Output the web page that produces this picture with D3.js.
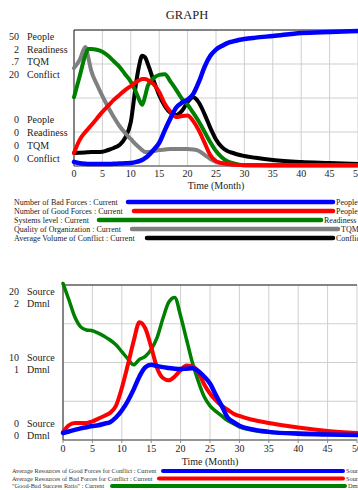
<!DOCTYPE html>
<html><head><meta charset="utf-8">
<script src="https://cdn.jsdelivr.net/npm/d3@7"></script>
<style>body{margin:0;background:#fff;}svg{display:block;font-family:"Liberation Serif","Times New Roman",serif;}</style>
</head><body>
<svg id="c" width="358" height="490"></svg>
<script>
// ---------- top chart data ----------
const topTimes = [0,1,2,2.5,3,4,5,6,7,8,9,10,11,11.5,12,12.5,13,14,15,16,17,18,19,20,21,22,23,24,25,26,27,28,29,30,32,35,40,45,50];
const badForces = [1.5,1.0,0.8,0.75,0.7,0.7,0.7,0.7,0.8,0.9,1.0,1.1,1.5,1.8,2.2,2.9,3.7,5.9,8.5,13.2,17.6,21.5,23.3,24.4,26.5,31.0,36.5,40.5,42.8,44.1,45.2,45.8,46.3,46.7,47.2,47.8,48.9,49.3,49.6];
const goodForces = [4.8,9.6,12.5,13.7,14.9,17.4,19.9,22.1,24.3,26.1,27.9,29.4,30.9,31.5,32.0,32.0,31.6,30.1,27.2,22.8,19.9,18.0,18.4,18.6,16.5,13.0,8.5,4.0,1.8,1.1,0.7,0.5,0.4,0.3,0.3,0.3,0.3,0.3,0.3];
const systemsLevel = [1.01,1.32,1.63,1.72,1.72,1.71,1.68,1.62,1.54,1.46,1.35,1.24,1.07,0.97,0.90,1.02,1.18,1.29,1.34,1.35,1.24,1.12,0.99,0.90,0.78,0.65,0.50,0.35,0.22,0.13,0.07,0.04,0.02,0.01,0.01,0.01,0.01,0.01,0.01];
const qualityOrg = [0.504,0.546,0.613,0.56,0.494,0.422,0.360,0.304,0.252,0.206,0.170,0.139,0.108,0.095,0.082,0.072,0.072,0.077,0.082,0.085,0.088,0.088,0.088,0.088,0.085,0.077,0.057,0.036,0.021,0.014,0.010,0.008,0.006,0.005,0.004,0.003,0.003,0.003,0.003];
const conflict = [1.91,1.95,2.0,2.03,2.05,2.06,2.1,2.35,2.65,3.09,4.12,6.47,12.6,14.9,16.2,16.0,15.0,12.6,10.4,8.8,7.8,7.5,8.1,9.4,10.1,9.3,7.6,5.6,3.9,2.8,2.2,1.91,1.65,1.47,1.2,0.88,0.59,0.44,0.29];
const topUnits = ["People","Readiness","TQM","Conflict"];
const topMaxLabels = ["50","2",".7","20"];
const topMax = [50,2,0.7,20];
const topLegend = ["Number of Bad Forces : Current","Number of Good Forces : Current","Systems level : Current","Quality of Organization : Current","Average Volume of Conflict : Current"];
const topLegendUnits = ["People","People","Readiness","TQM","Conflict"];

// ---------- bottom chart data ----------
const botTimes = [0,1,2,3,4,5,6,7,8,9,10,11,12,13,14,15,16,17,18,19,20,21,22,23,24,25,26,27,28,29,30,32,35,40,45,50];
const goodRes = [0.9,1.1,1.3,1.5,1.65,1.8,1.9,2.1,2.3,2.9,3.8,5.0,6.5,8.2,9.4,9.7,9.55,9.4,9.3,9.2,9.15,9.2,9.25,8.9,8.2,7.3,5.8,4.4,2.9,2.3,1.85,1.4,1.05,0.8,0.7,0.65];
const badRes = [1.03,1.9,2.2,2.2,2.2,2.4,2.75,3.1,3.5,4.4,6.7,9.6,12.7,15.2,14.4,12.0,9.3,8.0,7.7,8.2,9.0,9.6,9.5,8.8,7.2,6.0,5.1,4.4,3.9,3.4,3.1,2.65,2.2,1.6,1.15,0.9];
const successRatio = [2.02,1.81,1.59,1.46,1.42,1.41,1.38,1.34,1.29,1.23,1.14,1.05,0.97,1.04,1.08,1.17,1.32,1.57,1.78,1.84,1.60,1.30,1.00,0.76,0.56,0.44,0.37,0.31,0.25,0.21,0.17,0.13,0.10,0.09,0.08,0.06];
const botUnits = ["Source","Dmnl"];
const botTopLabels = ["20","2"];
const botMidLabels = ["10","1"];
const botMax = [20,2];
const botLegend = ["Average Resources of Good Forces for Conflict : Current","Average Resources of Bad Forces for Conflict : Current","\"Good-Bad Success Ratio\" : Current"];
const botLegendUnits = ["Source","Source","Dmnl"];
const xTicks = [0,5,10,15,20,25,30,35,40,45,50];

const svg = d3.select("#c");
svg.append("rect").attr("width",358).attr("height",490).attr("fill","#fff");

function plotFrame(x, L, R, T, B) {
  const g = svg.append("g");
  g.selectAll(".vg").data(xTicks).join("line")
    .attr("x1", d => x(d)).attr("x2", d => x(d)).attr("y1", T).attr("y2", B)
    .attr("stroke", "#cfcfcf").attr("stroke-width", 1);
  const hs = d3.range(5).map(i => T + (B - T) * i / 4);
  g.selectAll(".hg").data(hs).join("line")
    .attr("x1", L).attr("x2", R).attr("y1", d => d).attr("y2", d => d)
    .attr("stroke", "#cfcfcf").attr("stroke-width", 1);
  g.append("line").attr("x1", L).attr("x2", R).attr("y1", T).attr("y2", T).attr("stroke", "#222");
  g.append("line").attr("x1", L).attr("x2", L).attr("y1", T).attr("y2", B).attr("stroke", "#222");
  g.append("line").attr("x1", L).attr("x2", R).attr("y1", B).attr("y2", B).attr("stroke", "#444");
  return g;
}

function drawSeries(times, vals, x, y, color, width) {
  const line = d3.line().x((d, i) => x(times[i])).y(d => y(d)).curve(d3.curveMonotoneX);
  svg.append("path").attr("d", line(vals)).attr("fill", "none")
    .attr("stroke", color).attr("stroke-width", width)
    .attr("stroke-linejoin", "round").attr("stroke-linecap", "round");
}

// ================= TOP CHART =================
const tL = 74, tR = 358, tT = 30, tB = 166;
const xT = d3.scaleLinear().domain([0, 50]).range([tL, tR]);
const yTop = topMax.map(m => d3.scaleLinear().domain([0, m]).range([tB, tT]));
plotFrame(xT, tL, tR, tT, tB);

svg.append("text").attr("x", 187).attr("y", 19).attr("text-anchor", "middle")
  .attr("font-size", 12.5).attr("fill", "#222").text("GRAPH");

topUnits.forEach((u, i) => {
  svg.append("text").attr("x", 19).attr("y", 40 + i * 12.7).attr("text-anchor", "end")
    .attr("font-size", 10).attr("fill", "#222").text(topMaxLabels[i]);
  svg.append("text").attr("x", 27).attr("y", 40 + i * 12.7)
    .attr("font-size", 10).attr("fill", "#222").text(u);
  svg.append("text").attr("x", 19).attr("y", 123 + i * 12.9).attr("text-anchor", "end")
    .attr("font-size", 10).attr("fill", "#222").text("0");
  svg.append("text").attr("x", 27).attr("y", 123 + i * 12.9)
    .attr("font-size", 10).attr("fill", "#222").text(u);
});

svg.selectAll(".xt1").data(xTicks).join("text")
  .attr("x", d => xT(d)).attr("y", 177).attr("text-anchor", "middle")
  .attr("font-size", 10).attr("fill", "#222").text(d => d);
svg.append("text").attr("x", (tL + tR) / 2).attr("y", 189).attr("text-anchor", "middle")
  .attr("font-size", 10).attr("fill", "#222").text("Time (Month)");

drawSeries(topTimes, conflict, xT, yTop[3], "#000000", 4);
drawSeries(topTimes, qualityOrg, xT, yTop[2], "#808080", 4);
drawSeries(topTimes, systemsLevel, xT, yTop[1], "#008000", 4);
drawSeries(topTimes, goodForces, xT, yTop[0], "#ff0000", 4);
drawSeries(topTimes, badForces, xT, yTop[0], "#0000ff", 4.5);

const topColors = ["#0000ff", "#ff0000", "#008000", "#808080", "#000000"];
const topLegX1 = [128, 134, 99, 132, 147];
const topLegX2 = [333, 333, 321, 338, 333];
topLegend.forEach((t, i) => {
  const yy = 202 + i * 9;
  svg.append("text").attr("x", 14).attr("y", yy + 3).attr("font-size", 8).attr("fill", "#222").text(t);
  svg.append("line").attr("x1", topLegX1[i]).attr("x2", topLegX2[i]).attr("y1", yy).attr("y2", yy)
    .attr("stroke", topColors[i]).attr("stroke-width", 4.5).attr("stroke-linecap", "round");
  svg.append("text").attr("x", topLegX2[i] + 3).attr("y", yy + 3).attr("font-size", 8).attr("fill", "#222").text(topLegendUnits[i]);
});

// ================= BOTTOM CHART =================
const bL = 63, bR = 357, bT = 285, bB = 440;
const xB = d3.scaleLinear().domain([0, 50]).range([bL, bR]);
const yBot = botMax.map(m => d3.scaleLinear().domain([0, m]).range([bB, bT]));
plotFrame(xB, bL, bR, bT, bB);
svg.selectAll(".bt").data(xTicks).join("line")
  .attr("x1", d => xB(d)).attr("x2", d => xB(d)).attr("y1", bB).attr("y2", bB + 3)
  .attr("stroke", "#888");

botUnits.forEach((u, i) => {
  const rows = [[botTopLabels[i], 295 + i * 12], [botMidLabels[i], 361 + i * 11.5], ["0", 427 + i * 11.5]];
  rows.forEach(r => {
    svg.append("text").attr("x", 19).attr("y", r[1]).attr("text-anchor", "end")
      .attr("font-size", 10).attr("fill", "#222").text(r[0]);
    svg.append("text").attr("x", 27).attr("y", r[1])
      .attr("font-size", 10).attr("fill", "#222").text(u);
  });
});

svg.selectAll(".xt2").data(xTicks).join("text")
  .attr("x", d => xB(d)).attr("y", 452).attr("text-anchor", "middle")
  .attr("font-size", 10).attr("fill", "#222").text(d => d);
svg.append("text").attr("x", (bL + bR) / 2).attr("y", 465).attr("text-anchor", "middle")
  .attr("font-size", 10).attr("fill", "#222").text("Time (Month)");

drawSeries(botTimes, successRatio, xB, yBot[1], "#008000", 3.5);
drawSeries(botTimes, badRes, xB, yBot[0], "#ff0000", 4);
drawSeries(botTimes, goodRes, xB, yBot[0], "#0000ff", 4.5);

const botColors = ["#0000ff", "#ff0000", "#008000"];
const botLegX1 = [163, 159, 112];
const botLegX2 = [343, 343, 345];
botLegend.forEach((t, i) => {
  const yy = 471 + i * 7.5;
  svg.append("text").attr("x", 12).attr("y", yy + 2).attr("font-size", 6.3).attr("fill", "#333").text(t);
  svg.append("line").attr("x1", botLegX1[i]).attr("x2", botLegX2[i]).attr("y1", yy).attr("y2", yy)
    .attr("stroke", botColors[i]).attr("stroke-width", 4).attr("stroke-linecap", "round");
  svg.append("text").attr("x", botLegX2[i] + 3).attr("y", yy + 2).attr("font-size", 6.3).attr("fill", "#333").text(botLegendUnits[i]);
});
</script>
</body></html>
